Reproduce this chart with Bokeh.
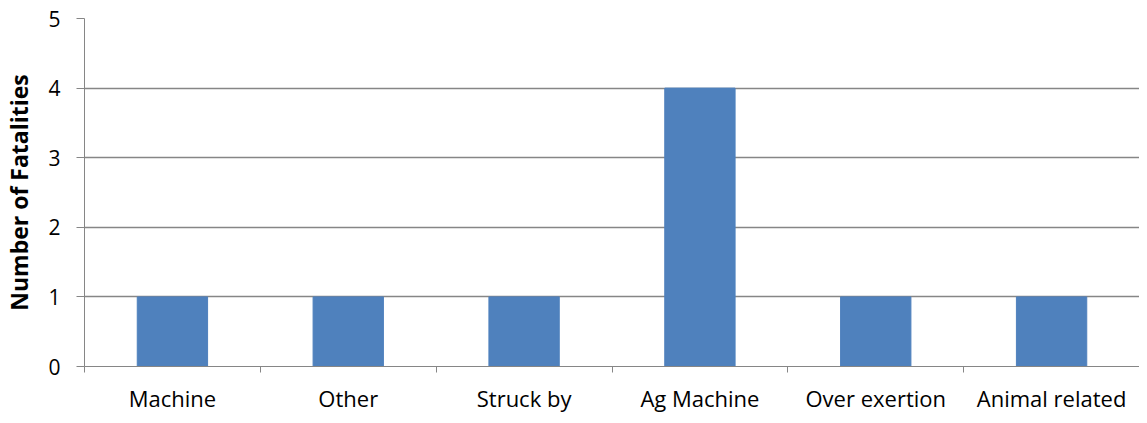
import numpy as np
from bokeh.plotting import figure
from bokeh.models import Range1d, FixedTicker, ColumnDataSource
from bokeh.embed import file_html
from bokeh.resources import INLINE

categories = ["Machine", "Other", "Struck by", "Ag Machine", "Over exertion", "Animal related"]
fatalities = [1, 1, 1, 4, 1, 1]
y_ticks = [0, 1, 2, 3, 4, 5]

n = len(categories)
centers = [i + 0.5 for i in range(n)]
bounds = list(range(n + 1))

src = ColumnDataSource(dict(x=centers, top=fatalities, cat=categories))

p = figure(width=1139, height=415, output_backend="svg", toolbar_location=None,
           x_range=Range1d(0, n), y_range=Range1d(0, 5),
           min_border_left=84, min_border_right=0, min_border_top=18, min_border_bottom=40)
p.outline_line_color = None
p.background_fill_color = "white"
p.border_fill_color = "white"

p.vbar(x="x", top="top", width=0.4, source=src, fill_color="#4F81BD", line_color="#4F81BD")

grid_color = "#868686"
font = "Open Sans"

xa = p.xaxis[0]
xa.ticker = FixedTicker(ticks=centers, minor_ticks=bounds)
xa.major_label_overrides = {c: lab for c, lab in zip(centers, categories)}
xa.major_tick_line_color = None
xa.minor_tick_line_color = grid_color
xa.minor_tick_out = 6
xa.minor_tick_in = 0
xa.axis_line_color = grid_color
xa.major_label_text_font = font
xa.major_label_text_font_size = "22px"
xa.major_label_text_color = "#000000"
xa.major_label_standoff = 10

ya = p.yaxis[0]
ya.ticker = FixedTicker(ticks=y_ticks)
ya.minor_tick_line_color = None
ya.major_tick_out = 8
ya.major_tick_in = 0
ya.major_tick_line_color = grid_color
ya.axis_line_color = grid_color
ya.major_label_text_font = font
ya.major_label_text_font_size = "21px"
ya.major_label_text_color = "#000000"
ya.major_label_standoff = 16
ya.axis_label = "Number of Fatalities"
ya.axis_label_text_font = font
ya.axis_label_text_font_size = "23px"
ya.axis_label_text_font_style = "bold"
ya.axis_label_text_color = "#000000"
ya.axis_label_standoff = 10

p.xgrid.grid_line_color = None
p.ygrid.grid_line_color = grid_color
p.ygrid.grid_line_width = 1.3

open("out.html", "w").write(file_html(p, INLINE))
